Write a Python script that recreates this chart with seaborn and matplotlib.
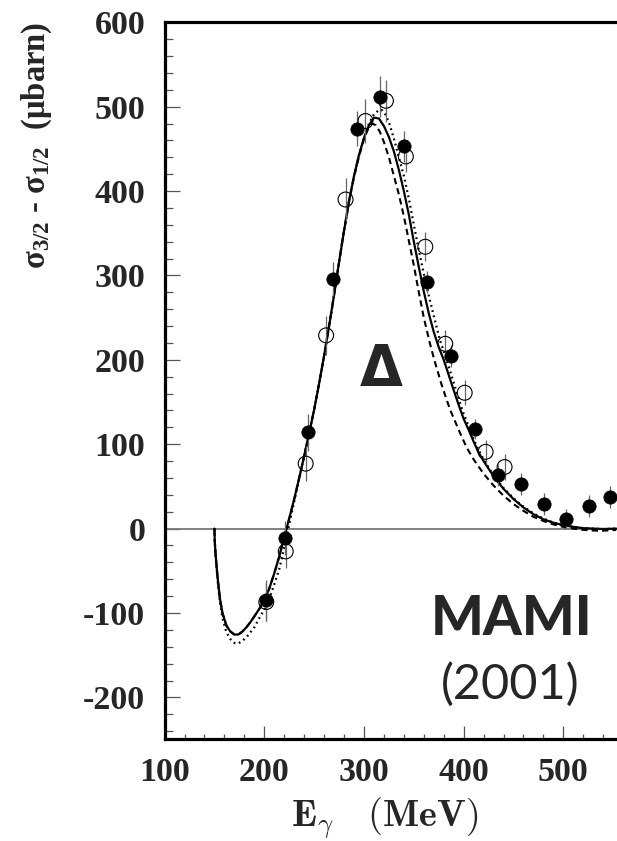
import numpy as np
import pandas as pd
import matplotlib
matplotlib.use("Agg")
import matplotlib.pyplot as plt
import seaborn as sns
from matplotlib.ticker import MultipleLocator, FixedLocator

# ---------------- data ----------------
# filled circles
filled_e = [202, 220.5, 244, 268.5, 292.5, 316, 340, 363.5, 387, 411, 434.5, 458, 481, 503, 525.5, 547]
filled_s = [-85, -11, 114, 296, 474, 512, 453, 292, 205, 118, 63, 53, 29, 11, 27, 37]
filled_err = [24, 20, 22, 20, 21, 24, 18, 13, 13, 12, 13, 13, 13, 12, 13, 13]

# open circles
open_e = [202, 221.5, 241.5, 262, 281.5, 301.5, 322, 342, 361.5, 381.5, 401, 422, 441]
open_s = [-87, -27, 77, 229, 390, 483, 507, 441, 334, 219, 161, 91, 73]
open_err = [22, 20, 21, 23, 25, 26, 25, 19, 17, 16, 15, 14, 15]

# theory curves
solid_e = [150, 150.3, 151, 152, 153.5, 155.5, 158, 162, 166, 170, 174, 178, 182, 186, 190, 195,
           200, 205, 210, 215, 220, 225, 230, 235, 240, 245, 250, 255, 260, 265, 270, 275, 280,
           285, 290, 295, 300, 305, 310, 315, 320, 325, 330, 335, 340, 345, 350, 355, 360, 365,
           370, 375, 380, 385, 390, 396, 400, 405, 410, 415, 420, 430, 440, 450, 460, 470, 480,
           490, 500, 510, 520, 530, 540, 553]
solid_s = [0, -15, -28, -43, -62, -83, -100, -115, -122, -125.5, -125.5, -122, -117, -111, -104, -95,
           -85, -71, -53, -33, -10, 12, 35, 60, 86, 113, 141, 172, 205, 240, 277, 316, 353,
           388, 418, 443, 463, 478, 487, 486, 477, 464, 447, 425, 400, 372, 340, 310, 281, 255,
           233, 215, 200, 182, 164, 143, 130, 117, 103, 90, 80, 62, 47, 35, 25, 17, 11,
           7, 4, 2, 0.5, 0, -0.5, 0]

dashed_e = [150, 150.3, 151, 152, 153.5, 155.5, 158, 162, 166, 170, 174, 178, 182, 186, 190, 195,
            200, 205, 210, 215, 220, 225, 230, 235, 240, 245, 250, 255, 260, 265, 270, 275, 280,
            285, 290, 295, 300, 305, 308, 312, 316, 320, 325, 330, 335, 340, 344, 350, 355, 360,
            366, 371, 378, 386, 395, 403, 410, 420, 430, 440, 450, 460, 470, 480, 490, 500, 510,
            520, 530, 540, 553]
dashed_s = [0, -15, -28, -43, -62, -83, -100, -115, -122, -125.5, -125.5, -122, -117, -111, -104, -95,
            -85, -71, -53, -33, -10, 12, 35, 60, 86, 113, 141, 172, 205, 240, 277, 316, 353,
            388, 417, 441, 462, 476, 480, 478, 470, 458, 440, 418, 396, 370, 347, 312, 280, 250,
            220, 198, 170, 142, 117, 96, 82, 65, 51, 39, 29, 21, 14, 9, 5, 2, 0,
            -1.5, -2.3, -2.5, -1.5]

dotted_e = [150, 150.3, 151, 152, 153.5, 155.5, 158, 162, 166, 170, 174, 178, 182, 186, 190, 195,
            200, 205, 210, 215, 220, 225, 230, 235, 240, 245, 250, 255, 260, 265, 270, 275, 280,
            285, 290, 295, 300, 305, 310, 315, 318, 322, 326, 330, 335, 340, 345, 350, 355, 360,
            365, 370, 376, 380, 385, 390, 396, 400, 405, 410, 415, 420, 430, 440, 450, 460, 470,
            480, 490, 500, 510, 520, 530, 540, 553]
dotted_s = [0, -15, -30, -45, -65, -87, -106, -123, -131, -135.5, -136, -133, -129, -123, -117, -106,
            -96, -83, -66, -48, -22, 5, 32, 59, 86, 113, 141, 172, 205, 240, 277, 316, 353,
            388, 418, 442, 463, 480, 491, 496, 496, 490, 478, 462, 440, 418, 391, 360, 330, 302,
            276, 252, 224, 210, 192, 173, 150, 136, 121, 106, 93, 82, 63, 48, 36, 26, 18,
            12, 7, 4, 2, 0.5, 0, -0.5, 0]

x_ticks = [100, 200, 300, 400, 500]
y_ticks = [-200, -100, 0, 100, 200, 300, 400, 500, 600]

# ---------------- style ----------------
sns.set_theme(style="white")
plt.rcParams['font.family'] = ['Liberation Serif', 'DejaVu Serif']
plt.rcParams['mathtext.fontset'] = 'custom'
plt.rcParams['mathtext.rm'] = 'Liberation Serif:bold'
plt.rcParams['mathtext.it'] = 'Liberation Serif:bold'
plt.rcParams['mathtext.bf'] = 'Liberation Serif:bold'

fig = plt.figure(figsize=(6.17, 8.41), dpi=100)
ax = fig.add_axes([0.2668, 0.1216, 0.7332, 0.8519])

df_solid = pd.DataFrame({"E": solid_e, "s": solid_s})
df_dashed = pd.DataFrame({"E": dashed_e, "s": dashed_s})
df_dotted = pd.DataFrame({"E": dotted_e, "s": dotted_s})
df_filled = pd.DataFrame({"E": filled_e, "s": filled_s, "err": filled_err})
df_open = pd.DataFrame({"E": open_e, "s": open_s, "err": open_err})

ax.axhline(0, color="#777777", lw=1.3, zorder=1)

sns.lineplot(data=df_solid, x="E", y="s", ax=ax, color="black", lw=1.6,
             estimator=None, sort=False, zorder=2)
sns.lineplot(data=df_dashed, x="E", y="s", ax=ax, color="black", lw=1.5,
             linestyle=(0, (3, 2)), estimator=None, sort=False, zorder=2)
sns.lineplot(data=df_dotted, x="E", y="s", ax=ax, color="black", lw=1.6,
             linestyle=(0, (0.8, 1.6)), estimator=None, sort=False, zorder=2)

ax.errorbar(df_open["E"], df_open["s"], yerr=df_open["err"], fmt="none",
            ecolor="#666666", elinewidth=0.9, capsize=0, zorder=3)
ax.errorbar(df_filled["E"], df_filled["s"], yerr=df_filled["err"], fmt="none",
            ecolor="#666666", elinewidth=0.9, capsize=0, zorder=3)

sns.scatterplot(data=df_open, x="E", y="s", ax=ax, marker="o", s=115,
                facecolors="none", edgecolor="black", linewidth=0.8, zorder=4)
sns.scatterplot(data=df_filled, x="E", y="s", ax=ax, marker="o", s=92,
                color="black", edgecolor="black", linewidth=0.5, zorder=5)
# make sure the open markers are hollow
ax.collections[-2].set_facecolor("none")
ax.collections[-2].set_edgecolor("black")

ax.set_xlim(100, 553.8)
ax.set_ylim(-249, 600)

ax.xaxis.set_major_locator(FixedLocator(x_ticks))
ax.yaxis.set_major_locator(FixedLocator(y_ticks))
ax.xaxis.set_minor_locator(MultipleLocator(20))
ax.yaxis.set_minor_locator(MultipleLocator(20))
ax.set_xticklabels([str(v) for v in x_ticks])
ax.set_yticklabels([str(v) for v in y_ticks])

for sp in ["left", "top", "bottom"]:
    ax.spines[sp].set_linewidth(2.3)
    ax.spines[sp].set_color("black")
ax.spines["right"].set_visible(False)

ax.tick_params(axis="y", which="major", direction="in", length=10.8, width=0.9,
               color="#555555", pad=14, labelsize=24.5, left=True)
ax.tick_params(axis="y", which="minor", direction="in", length=5.5, width=0.9,
               color="#555555", left=True)
ax.tick_params(axis="x", which="major", direction="in", length=9.1, width=0.9,
               color="#555555", pad=13, labelsize=24.5, bottom=True)
ax.tick_params(axis="x", which="minor", direction="in", length=3.8, width=0.9,
               color="#555555", bottom=True)
for lab in ax.get_xticklabels() + ax.get_yticklabels():
    lab.set_fontweight("bold")
    lab.set_family("Liberation Serif")

ax.set_xlabel(r"$\mathbf{E}_{\gamma}\quad\mathbf{(MeV)}$", fontsize=27.5,
              math_fontfamily="cm", va="center")
ax.xaxis.set_label_coords(0.487, -0.1115)
ax.set_ylabel(r"σ$_{3/2}$ - σ$_{1/2}$  (μbarn)", fontsize=23.5, fontweight="bold",
              family="Liberation Serif", rotation=90, va="center", ha="center",
              rotation_mode="default")
ax.yaxis.set_label_coords(-0.283, 0.828)

ax.text(317.6, 187, "Δ", ha="center", va="center", fontsize=40,
        family=["DejaVu Sans"], fontweight="bold")
ax.text(448, -107, "MAMI", ha="center", va="center", fontsize=40,
        family=["Lato", "DejaVu Sans"], fontweight="black")
ax.text(447, -185, "(2001)", ha="center", va="center", fontsize=35,
        family=["Lato", "DejaVu Sans"], fontweight="normal")

fig.savefig("out.png", dpi=100)
